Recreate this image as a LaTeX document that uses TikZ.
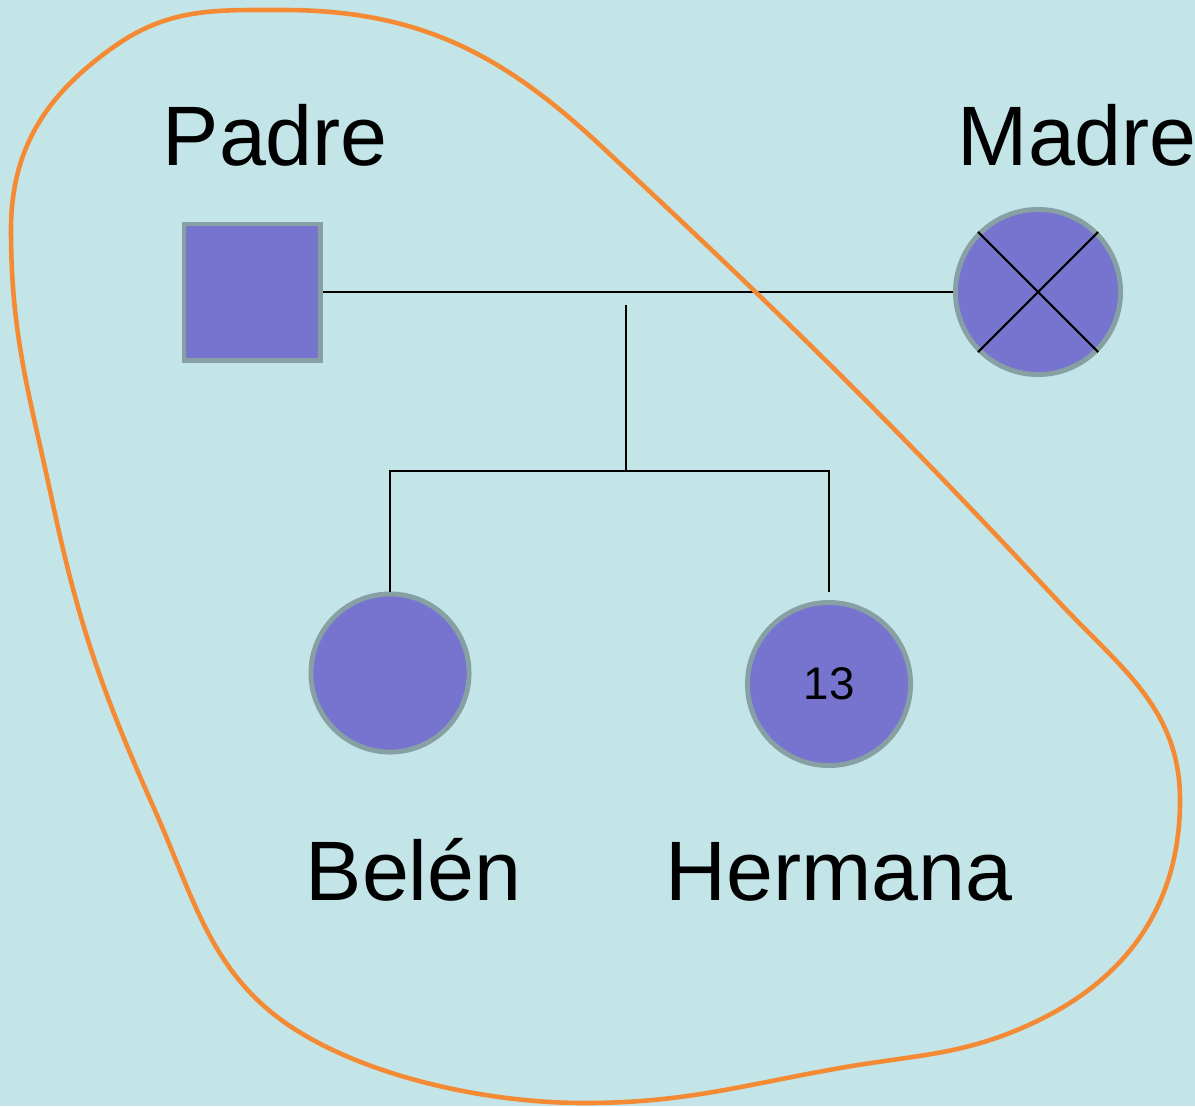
\documentclass[tikz,border=0pt]{standalone}
\usepackage{fontspec}
\setmainfont{Liberation Sans}
\definecolor{fondo}{RGB}{196,229,231}
\definecolor{relleno}{RGB}{118,116,206}
\definecolor{borde}{RGB}{134,160,164}
\definecolor{naranja}{RGB}{245,138,52}
\tikzset{
  persona/.style={draw=borde, line width=1.4pt, fill=relleno, inner sep=0pt},
  nombre/.style={anchor=base west, inner sep=0pt, font=\fontsize{24}{28}\selectfont},
  linea/.style={line width=0.6pt}
}
\begin{document}
\begin{tikzpicture}[x=0.01cm, y=-0.01cm]
        \useasboundingbox[fill=fondo] (0,0) rectangle (1195,1106);
        \node (padre) at (252,292) [persona, rectangle, minimum size=1.36cm] {};
        \node (madre) at (1038,292) [persona, circle, minimum size=1.65cm] {};
        \node (belen) at (390,673) [persona, circle, minimum size=1.58cm] {};
        \node (hermana) at (829,684) [persona, circle, minimum size=1.63cm, font=\fontsize{13}{15}\selectfont] {13};
        \draw[linea] (madre.45) -- (madre.225);
        \draw[linea] (madre.135) -- (madre.-45);
        % lineas de parentesco
        \coordinate (pareja) at (626,305);
        \coordinate (hijos) at (626,471);
        \coordinate (finher) at (829,592);
        \draw[linea] (padre.east) -- (madre.west);
        \draw[linea] (pareja) -- (hijos);
        \draw[linea] (belen.north) |- (hijos) -| (finher);
        \node at (162,165) [nombre] {Padre};
        \node at (957,165) [nombre] {Madre};
        \node at (305,900) [nombre] {Belén};
        \node at (665,900) [nombre] {Hermana};
        % contorno naranja
        \draw[naranja, line width=1.3pt] (283,10)
          to[out=0, in=137] (600,145)
          to[out=-43, in=133] (1057,600)
          to[out=-47, in=90] (1180,800)
          to[out=-90, in=25] (1033,1023)
          to[out=-155, in=10] (840,1068)
          to[out=-170, in=0] (584,1103)
          to[out=180, in=-30, looseness=0.8] (306,1036)
          to[out=150, in=-66] (153,806)
          to[out=114, in=-78] (52,500)
          to[out=102, in=-90] (11,230)
          to[out=90, in=-145] (115,46)
          to[out=35, in=180] cycle;
    \end{tikzpicture}
\end{document}
